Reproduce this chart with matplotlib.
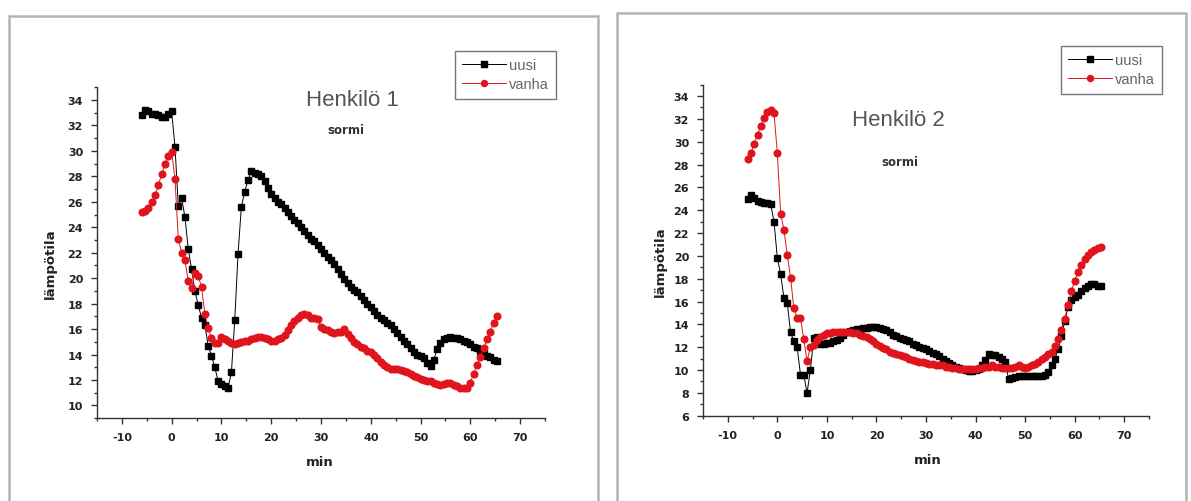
import matplotlib.pyplot as plt
from matplotlib.patches import Rectangle
from matplotlib.ticker import MultipleLocator

# measurement times (min), one sample every 40 s
minutes = [-6.00, -5.33, -4.67, -4.00, -3.33, -2.67, -2.00, -1.33, -0.67, 0.00,
           0.67, 1.33, 2.00, 2.67, 3.33, 4.00, 4.67, 5.33, 6.00, 6.67,
           7.33, 8.00, 8.67, 9.33, 10.00, 10.67, 11.33, 12.00, 12.67, 13.33,
           14.00, 14.67, 15.33, 16.00, 16.67, 17.33, 18.00, 18.67, 19.33, 20.00,
           20.67, 21.33, 22.00, 22.67, 23.33, 24.00, 24.67, 25.33, 26.00, 26.67,
           27.33, 28.00, 28.67, 29.33, 30.00, 30.67, 31.33, 32.00, 32.67, 33.33,
           34.00, 34.67, 35.33, 36.00, 36.67, 37.33, 38.00, 38.67, 39.33, 40.00,
           40.67, 41.33, 42.00, 42.67, 43.33, 44.00, 44.67, 45.33, 46.00, 46.67,
           47.33, 48.00, 48.67, 49.33, 50.00, 50.67, 51.33, 52.00, 52.67, 53.33,
           54.00, 54.67, 55.33, 56.00, 56.67, 57.33, 58.00, 58.67, 59.33, 60.00,
           60.67, 61.33, 62.00, 62.67, 63.33, 64.00, 64.67, 65.33]

# Henkilö 1
p1_uusi = [32.8, 33.2, 33.1, 32.9, 32.9, 32.8, 32.7, 32.7, 32.9, 33.1,
           30.3, 25.7, 26.3, 24.8, 22.3, 20.7, 19.0, 17.9, 16.9, 16.3,
           14.7, 13.9, 13.0, 11.9, 11.7, 11.5, 11.4, 12.6, 16.7, 21.9,
           25.6, 26.8, 27.7, 28.4, 28.3, 28.2, 28.0, 27.6, 27.1, 26.6,
           26.3, 26.0, 25.8, 25.5, 25.2, 24.9, 24.6, 24.3, 24.0, 23.7,
           23.4, 23.1, 22.9, 22.6, 22.3, 22.0, 21.7, 21.4, 21.1, 20.7,
           20.3, 19.9, 19.6, 19.3, 19.1, 18.9, 18.6, 18.3, 18.0, 17.7,
           17.4, 17.1, 16.9, 16.7, 16.5, 16.3, 16.0, 15.7, 15.4, 15.1,
           14.8, 14.5, 14.2, 14.0, 13.9, 13.7, 13.3, 13.1, 13.6, 14.4,
           14.9, 15.2, 15.3, 15.35, 15.3, 15.3, 15.2, 15.1, 15.0, 14.8,
           14.6, 14.5, 14.3, 14.1, 13.9, 13.8, 13.6, 13.5]
p1_vanha = [25.2, 25.3, 25.5, 26.0, 26.5, 27.3, 28.2, 29.0, 29.6, 29.9,
            27.8, 23.1, 22.0, 21.4, 19.8, 19.2, 20.4, 20.2, 19.3, 17.2,
            16.1, 15.3, 14.9, 14.9, 15.4, 15.2, 15.1, 14.9, 14.8, 14.9,
            15.0, 15.1, 15.1, 15.2, 15.3, 15.4, 15.4, 15.3, 15.2, 15.1,
            15.1, 15.2, 15.3, 15.5, 15.9, 16.3, 16.6, 16.9, 17.1, 17.2,
            17.1, 16.9, 16.9, 16.8, 16.2, 16.0, 15.9, 15.8, 15.7, 15.8,
            15.8, 16.0, 15.6, 15.3, 15.0, 14.8, 14.6, 14.5, 14.3, 14.2,
            14.0, 13.7, 13.4, 13.2, 13.0, 12.9, 12.9, 12.9, 12.8, 12.7,
            12.6, 12.5, 12.3, 12.2, 12.1, 12.0, 11.9, 11.9, 11.8, 11.7,
            11.6, 11.7, 11.8, 11.8, 11.6, 11.5, 11.4, 11.4, 11.4, 11.8,
            12.5, 13.2, 13.8, 14.5, 15.2, 15.8, 16.5, 17.0]

# Henkilö 2
p2_uusi = [25.0, 25.3, 25.1, 24.8, 24.7, 24.6, 24.6, 24.5, 23.0, 19.8,
           18.4, 16.3, 15.9, 13.3, 12.5, 12.0, 9.6, 9.6, 8.0, 10.0,
           12.8, 12.9, 12.3, 12.3, 12.4, 12.4, 12.5, 12.6, 12.8, 13.1,
           13.3, 13.4, 13.5, 13.6, 13.6, 13.7, 13.7, 13.75, 13.8, 13.75,
           13.7, 13.6, 13.5, 13.3, 13.1, 13.0, 12.8, 12.7, 12.6, 12.5,
           12.3, 12.2, 12.0, 11.9, 11.8, 11.7, 11.5, 11.4, 11.2, 11.0,
           10.8, 10.6, 10.4, 10.3, 10.2, 10.1, 10.0, 9.95, 9.9, 10.0,
           10.1, 10.4, 10.9, 11.4, 11.3, 11.3, 11.1, 11.0, 10.7, 9.2,
           9.3, 9.4, 9.5, 9.5, 9.5, 9.5, 9.5, 9.5, 9.5, 9.5,
           9.6, 9.8, 10.4, 11.0, 11.8, 13.0, 14.3, 15.5, 16.1, 16.4,
           16.6, 16.9, 17.2, 17.4, 17.5, 17.5, 17.4, 17.35]
p2_vanha = [28.5, 29.0, 29.8, 30.6, 31.4, 32.1, 32.6, 32.8, 32.5, 29.0,
            23.7, 22.3, 20.1, 18.1, 15.4, 14.6, 14.6, 12.7, 10.8, 12.0,
            12.2, 12.6, 12.9, 13.1, 13.2, 13.2, 13.3, 13.3, 13.3, 13.3,
            13.3, 13.3, 13.2, 13.2, 13.1, 13.0, 12.9, 12.7, 12.5, 12.3,
            12.1, 11.9, 11.8, 11.6, 11.5, 11.4, 11.3, 11.2, 11.1, 11.0,
            10.9, 10.8, 10.7, 10.7, 10.6, 10.5, 10.5, 10.4, 10.4, 10.4,
            10.3, 10.3, 10.2, 10.2, 10.1, 10.1, 10.1, 10.1, 10.1, 10.1,
            10.2, 10.2, 10.3, 10.3, 10.4, 10.3, 10.3, 10.2, 10.2, 10.2,
            10.2, 10.3, 10.4, 10.3, 10.2, 10.3, 10.4, 10.5, 10.7, 11.0,
            11.1, 11.4, 11.6, 12.1, 12.7, 13.5, 14.5, 15.7, 16.9, 17.8,
            18.6, 19.2, 19.7, 20.1, 20.3, 20.5, 20.7, 20.8]

W, H = 1191, 502
RED = '#e0141c'
tick_font = ['Liberation Sans Narrow', 'DejaVu Sans']

fig = plt.figure(figsize=(W / 100, H / 100), dpi=100)


def px(x, y):
    # pixel position (from top-left) -> figure fraction
    return x / W, 1 - y / H


def panel(rect, frame, uusi, vanha, ylim, title, title_xy, sormi_xy, leg_xy, xlab_xy, ylab_xy):
    # grey frame around the whole panel
    fx0, fy0 = px(frame[0], frame[1])
    fx1, fy1 = px(frame[2], frame[3])
    fig.patches.append(Rectangle((fx0, fy1), fx1 - fx0, fy0 - fy1, transform=fig.transFigure,
                                 fill=False, edgecolor='#b4b4b4', linewidth=1.8))

    ax = fig.add_axes(rect)
    l1, = ax.plot(minutes, uusi, color='black', lw=0.7, marker='s', ms=4.4, mec='black', mfc='black')
    l2, = ax.plot(minutes, vanha, color=RED, lw=0.7, marker='o', ms=4.8, mec=RED, mfc=RED)
    ax.set_xlim(-15, 75)
    ax.set_ylim(*ylim)
    ax.xaxis.set_minor_locator(MultipleLocator(5))
    ax.yaxis.set_minor_locator(MultipleLocator(1))
    yt = [t for t in range(ylim[0], 35) if t % 2 == 0]
    ax.set_yticks(yt)
    ax.set_yticklabels([str(t) for t in yt], family=tick_font, fontweight='bold', fontsize=8,
                       color='#222222')
    xt = [-10, 0, 10, 20, 30, 40, 50, 60, 70]
    ax.set_xticks(xt)
    ax.set_xticklabels([str(t) for t in xt], family=tick_font, fontweight='bold', fontsize=8,
                       color='#222222')
    for s in ['top', 'right']:
        ax.spines[s].set_visible(False)
    for s in ['left', 'bottom']:
        ax.spines[s].set_color('#333333')
        ax.spines[s].set_linewidth(1.0)
    ax.tick_params(which='major', length=4, width=1, color='#333333', pad=6)
    ax.tick_params(which='minor', length=2.5, width=1, color='#333333')

    fig.text(*px(*title_xy), title, ha='center', va='center', fontsize=16, color='#555555',
             family='Liberation Sans')
    fig.text(*px(*sormi_xy), 'sormi', ha='center', va='center', fontsize=8.5, fontweight='bold',
             color='#333333', family=tick_font)
    fig.text(*px(*xlab_xy), 'min', ha='center', va='center', fontsize=9.5, fontweight='bold',
             color='#222222', family=tick_font)
    fig.text(*px(*ylab_xy), 'lämpötila', ha='center', va='center', rotation=90, fontsize=9.5,
             fontweight='bold', color='#222222', family=tick_font)

    leg = fig.legend([l1, l2], ['uusi', 'vanha'], loc='upper left', bbox_to_anchor=px(*leg_xy),
                     bbox_transform=fig.transFigure, numpoints=1, handlelength=3.0,
                     fancybox=False, framealpha=1, edgecolor='#777777', borderpad=0.5,
                     labelspacing=0.35, handletextpad=0.2, borderaxespad=0, markerscale=0.9,
                     prop={'family': 'Liberation Sans', 'size': 10.5})
    leg.get_frame().set_linewidth(1.0)
    for t in leg.get_texts():
        t.set_color('#666666')
    return ax


panel([97 / W, 1 - 419.2 / H, 448 / W, 330.9 / H], (9, 17, 598, 520), p1_uusi, p1_vanha, (9, 35),
      'Henkilö 1', (352, 100), (346, 131), (455, 52), (320, 463), (50, 264))
panel([703 / W, 1 - 416.7 / H, 446 / W, 331.1 / H], (617, 14, 1186, 520), p2_uusi, p2_vanha, (6, 35),
      'Henkilö 2', (898, 121), (900, 163), (1061, 47), (928, 461), (660, 262))

fig.savefig('out.png', dpi=100)
